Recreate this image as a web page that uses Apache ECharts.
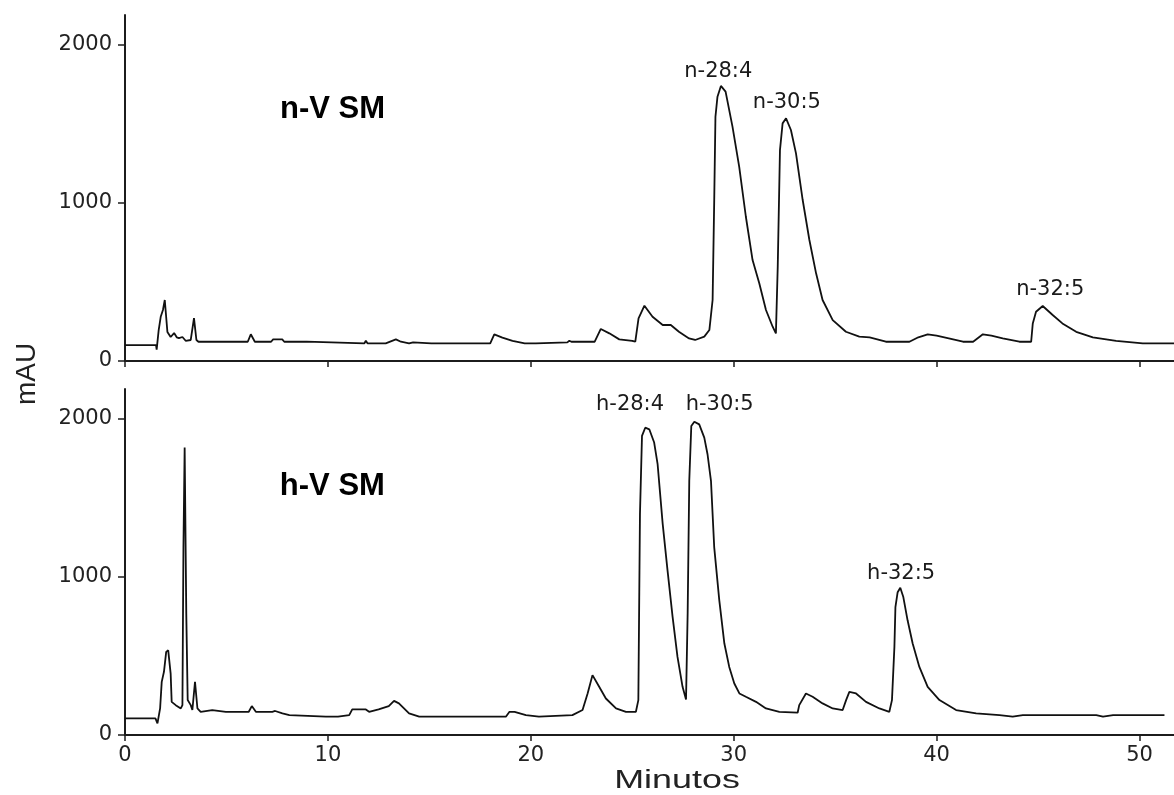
<!DOCTYPE html>
<html>
<head>
<meta charset="utf-8">
<script src="https://cdn.jsdelivr.net/npm/echarts@6/dist/echarts.min.js"></script>
<style>
html,body{margin:0;padding:0;background:#fff;}
#chart{width:1174px;height:795px;}
</style>
</head>
<body>
<div id="chart"></div>
<script>
// ---- data ----
const xTicks = [0, 10, 20, 30, 40, 50];
const yTicks = [0, 1000, 2000];

// n-V SM trace (minutes, mAU)
const nTime = [0,1.53,1.56,1.63,1.66,1.76,1.87,1.96,2.09,2.25,2.42,2.55,2.66,2.83,2.99,3.24,3.40,3.52,3.62,4.35,4.44,4.55,6.05,6.2,6.4,7.2,7.3,7.75,7.85,8.95,9.0,11.8,11.87,11.95,12.85,12.9,13.35,13.6,14.0,14.2,15.1,18.0,18.2,18.6,19.1,19.7,20.25,20.3,21.8,21.9,22.0,23.15,23.45,23.87,24.36,25.0,25.15,25.31,25.6,26.0,26.5,26.9,27.3,27.8,28.1,28.55,28.8,28.96,29.04,29.1,29.2,29.37,29.6,29.94,30.27,30.6,30.93,31.26,31.59,31.92,32.08,32.17,32.28,32.41,32.58,32.82,33.07,33.4,33.73,34.06,34.38,34.88,35.53,36.19,36.7,37.5,38.66,39.1,39.56,40.0,40.6,41.3,41.8,42.28,42.7,43.26,44.08,44.66,44.74,44.9,45.23,45.72,46.2,46.88,47.7,48.85,50.16,51.7];
const nSignal = [100,100,72,75,196,280,323,386,184,152,177,150,145,152,128,133,272,133,122,122,133,122,122,169,122,122,137,137,122,122,112,112,128,112,112,122,137,122,112,118,112,112,169,148,128,112,112,118,118,128,122,122,203,175,137,128,122,270,350,280,228,228,185,143,133,154,196,386,1019,1546,1673,1741,1705,1483,1230,913,639,492,323,217,175,597,1335,1504,1536,1462,1314,1019,766,555,386,259,185,154,150,122,122,150,169,160,143,122,122,169,160,143,122,122,238,312,348,291,238,185,150,128,112,112];

// h-V SM trace (minutes, mAU)
const hTime = [0,1.5,1.6,1.73,1.81,1.92,2.03,2.13,2.25,2.3,2.5,2.75,2.83,2.88,2.94,3.02,3.09,3.24,3.32,3.45,3.57,3.73,4.3,4.97,6.1,6.25,6.45,7.26,7.4,7.76,8.1,9.9,10.5,11.05,11.2,11.87,12.03,12.5,13.0,13.26,13.5,14.0,14.5,18.77,18.95,19.2,19.76,20.4,22.05,22.55,22.8,23.04,23.37,23.7,24.2,24.69,25.18,25.3,25.38,25.48,25.64,25.84,26.08,26.25,26.5,26.74,26.99,27.23,27.48,27.65,27.73,27.81,27.91,28.06,28.3,28.55,28.71,28.88,29.04,29.29,29.54,29.78,30.03,30.28,30.6,31.1,31.59,32.25,33.15,33.23,33.56,33.89,34.38,34.88,35.37,35.54,35.7,36.03,36.52,37.18,37.67,37.8,37.92,37.97,38.08,38.21,38.36,38.57,38.82,39.15,39.56,40.14,40.96,41.95,43.1,43.75,44.25,47.87,48.2,48.7,51.23];
const hSignal = [105,105,74,168,336,400,526,536,389,210,189,168,189,1188,1819,768,221,189,158,336,168,147,158,147,147,183,147,147,152,137,126,116,116,126,162,162,147,162,183,216,200,137,116,116,147,147,126,116,126,158,263,379,305,231,168,147,147,221,1399,1893,1945,1935,1851,1714,1336,1041,746,494,305,225,768,1609,1956,1983,1966,1882,1777,1609,1188,852,579,431,326,263,242,210,168,147,141,189,263,242,200,168,158,221,273,263,210,168,147,221,557,809,904,932,873,726,579,431,305,221,158,137,126,116,126,126,116,126,126];

// peak annotations [minutes, mAU, text]
const nPeakLabels = [[29.24, 1829, 'n-28:4'], [32.62, 1636, 'n-30:5'], [45.6, 451, 'n-32:5']];
const hPeakLabels = [[24.89, 2090, 'h-28:4'], [29.31, 2090, 'h-30:5'], [38.25, 1025, 'h-32:5']];
const nSampleLabel = [[10.23, 1595, 'n-V SM']];
const hSampleLabel = [[10.22, 1572, 'h-V SM']];

const xTitle = 'Minutos';
const yTitle = 'mAU';

// ---- chart ----
const chart = echarts.init(document.getElementById('chart'), null, {renderer: 'canvas'});
const AX = '#1c1c1c';
const regFont = 'DejaVu Sans';

function bottomX(gridIndex, showLabels) {
  return {
    type: 'value', gridIndex: gridIndex, min: 0, max: 51.7, position: 'bottom',
    axisLine: {show: true, onZero: false, lineStyle: {color: AX, width: 2}},
    axisTick: {show: true, inside: false, length: 6, customValues: xTicks, lineStyle: {color: AX, width: 1.5}},
    axisLabel: {show: showLabels, customValues: xTicks, margin: 10, color: '#222', fontFamily: regFont, fontSize: 21,
      formatter: v => String(v)},
    splitLine: {show: false}
  };
}
function topX(gridIndex) {
  return {
    type: 'value', gridIndex: gridIndex, min: 0, max: 51.7, position: 'top',
    axisLine: {show: true, lineStyle: {color: AX, width: 2}},
    axisTick: {show: false}, axisLabel: {show: false}, splitLine: {show: false}
  };
}
function yAx(gridIndex) {
  return {
    type: 'value', gridIndex: gridIndex, min: 0, max: 2190,
    axisLine: {show: true, onZero: false, lineStyle: {color: AX, width: 2}},
    axisTick: {show: true, inside: false, length: 7, customValues: yTicks, lineStyle: {color: AX, width: 1.5}},
    axisLabel: {show: true, customValues: yTicks, margin: 13, color: '#222', fontFamily: regFont, fontSize: 21,
      formatter: v => String(v)},
    splitLine: {show: false}
  };
}
function zip(a, b) { return a.map((v, i) => [v, b[i]]); }
function labelSeries(xi, yi, data, font, size, weight, color) {
  return {
    type: 'scatter', xAxisIndex: xi, yAxisIndex: yi, symbolSize: 0, silent: true,
    itemStyle: {opacity: 1},
    data: data.map(d => ({value: [d[0], d[1]], name: d[2]})),
    label: {show: true, position: 'inside', formatter: p => p.name, color: color, opacity: 1,
      fontFamily: font, fontSize: size, fontWeight: weight},
    z: 5
  };
}

const option = {
  animation: false,
  backgroundColor: '#fff',
  grid: [
    {left: 125, right: 0, top: 15, height: 346},
    {left: 125, right: 0, top: 389, height: 346}
  ],
  xAxis: [bottomX(0, false), topX(0), bottomX(1, true), topX(1)],
  yAxis: [yAx(0), yAx(1)],
  series: [
    {type: 'line', xAxisIndex: 0, yAxisIndex: 0, data: zip(nTime, nSignal), showSymbol: false,
      lineStyle: {color: '#111', width: 1.8}},
    {type: 'line', xAxisIndex: 2, yAxisIndex: 1, data: zip(hTime, hSignal), showSymbol: false,
      lineStyle: {color: '#111', width: 1.8}},
    labelSeries(0, 0, nPeakLabels, regFont, 21, 'normal', '#1a1a1a'),
    labelSeries(2, 1, hPeakLabels, regFont, 21, 'normal', '#1a1a1a'),
    labelSeries(0, 0, nSampleLabel, 'Liberation Sans', 31, 'bold', '#000'),
    labelSeries(2, 1, hSampleLabel, 'Liberation Sans', 31, 'bold', '#000')
  ],
  graphic: [
    {type: 'text', x: 27, y: 374, rotation: Math.PI / 2,
      style: {text: yTitle, font: '28px "Liberation Sans"', fill: '#222', align: 'center', verticalAlign: 'middle'}},
    {type: 'text', x: 677, y: 781, scaleX: 1.38,
      style: {text: xTitle, font: '26px "Liberation Sans"', fill: '#222', align: 'center', verticalAlign: 'middle'}}
  ]
};
chart.setOption(option);
</script>
</body>
</html>
